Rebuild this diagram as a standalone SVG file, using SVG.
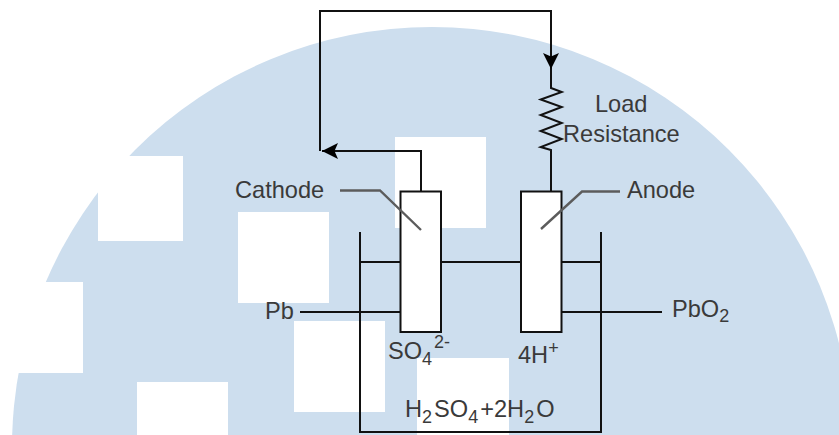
<svg xmlns="http://www.w3.org/2000/svg" width="839" height="435" viewBox="0 0 839 435">
  <defs>
    <marker id="arrow" markerUnits="userSpaceOnUse" markerWidth="18" markerHeight="20" refX="16" refY="9" orient="auto">
      <path d="M16 9 L0 17 L3.500 9 L0 1 Z" fill="#000"/>
    </marker>
  </defs>
  <style>
    .t { font-family: "Liberation Sans", Arial, sans-serif; font-size: 23.600px; fill: #3a3a3a; }
    .sub { font-size: 18px; letter-spacing: 2px; }
    .sup { font-size: 18px; }
    .w { fill: #fff; }
    .c { fill: none; stroke: #111; stroke-width: 2; }
    .g { fill: none; stroke: #5c5c5c; stroke-width: 2.400; }
    .b { fill: #fff; stroke: #111; stroke-width: 2; }
  </style>
  <rect width="839" height="435" fill="#fff"/>
  <g id="background">
    <circle cx="432" cy="447" r="420" fill="#cddeee"/>
    <rect class="w" x="98" y="156" width="85" height="85"/>
    <rect class="w" x="0" y="282" width="83" height="91"/>
    <rect class="w" x="137" y="382" width="91" height="53"/>
    <rect class="w" x="238" y="212" width="91" height="91"/>
    <rect class="w" x="294" y="321" width="91" height="91"/>
    <rect class="w" x="417" y="358" width="92" height="77"/>
    <rect class="w" x="395" y="137" width="91" height="91"/>
  </g>
  <g id="connectors">
    <path class="c" d="M360 232 V432 H601 V232"/>
    <path class="c" d="M360 262 H601"/>
    <path class="c" d="M300 312 H400"/>
    <path class="c" d="M561 312 H662"/>
    <path class="c" d="M421 191 V151 H322" marker-end="url(#arrow)"/>
    <path class="c" d="M320 151 V11 H551 V69" marker-end="url(#arrow)"/>
    <path class="c" d="M551 69 V88 L561.700 92 L540.700 99.500 L561.700 107 L540.700 115 L561.700 123 L540.700 131 L561.700 139 L540.700 147 L551 150 V191"/>
  </g>
  <g id="cathode"><rect class="b" x="400.500" y="191.500" width="40.500" height="140.500"/></g>
  <g id="anode"><rect class="b" x="521" y="191.500" width="40.500" height="140.500"/></g>
  <g id="callouts">
    <path class="g" d="M340 190.500 H380 L421 230"/>
    <path class="g" d="M541 229 L582 191.500 H620"/>
  </g>
  <g id="labels">
    <text class="t" x="235" y="198">Cathode</text>
    <text class="t" x="627" y="198">Anode</text>
    <text class="t" x="595" y="111.500">Load</text>
    <text class="t" x="563" y="142">Resistance</text>
    <text class="t" x="265" y="319">Pb</text>
    <text class="t" x="672" y="316.500">PbO<tspan class="sub" dy="5.500">2</tspan></text>
    <text class="t" x="388" y="359">SO<tspan class="sub" dy="6">4</tspan><tspan class="sup" dy="-17">2-</tspan></text>
    <text class="t" x="518" y="363">4H<tspan class="sup" dy="-9">+</tspan></text>
    <text class="t" x="405" y="417">H<tspan class="sub" dy="6">2</tspan><tspan dy="-6">SO</tspan><tspan class="sub" dy="6">4</tspan><tspan dy="-6">+2H</tspan><tspan class="sub" dy="6">2</tspan><tspan dy="-6">O</tspan></text>
  </g>
</svg>
